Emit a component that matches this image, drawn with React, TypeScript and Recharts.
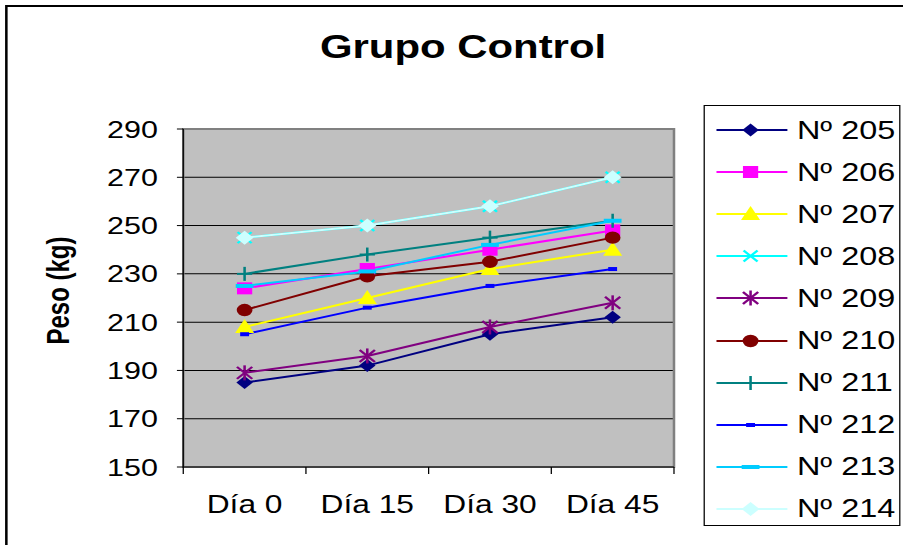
import React from 'react';
import { LineChart, Line, XAxis, YAxis, CartesianGrid, ReferenceArea } from 'recharts';

// Categorías y pesos (kg)
const categories = ['Día 0', 'Día 15', 'Día 30', 'Día 45'];
const yTicks = [150, 170, 190, 210, 230, 250, 270, 290];

const n205 = [185, 192, 205, 212];
const n206 = [224, 232, 240, 248];
const n207 = [208, 220, 232, 240];
const n208 = [245, 250, 258, 270];
const n209 = [189, 196, 208, 218];
const n210 = [215, 229, 235, 245];
const n211 = [230, 238, 245, 252];
const n212 = [205, 216, 225, 232];
const n213 = [225, 231, 242, 252];
const n214 = [245, 250, 258, 270];

type Shape = 'diamond' | 'square' | 'triangle' | 'x' | 'star' | 'circle' | 'plus' | 'dash' | 'bar' | 'diamond2';

const series: { key: string; name: string; values: number[]; color: string; shape: Shape }[] = [
  { key: 'n205', name: 'Nº 205', values: n205, color: '#000080', shape: 'diamond' },
  { key: 'n206', name: 'Nº 206', values: n206, color: '#FF00FF', shape: 'square' },
  { key: 'n207', name: 'Nº 207', values: n207, color: '#FFFF00', shape: 'triangle' },
  { key: 'n208', name: 'Nº 208', values: n208, color: '#00FFFF', shape: 'x' },
  { key: 'n209', name: 'Nº 209', values: n209, color: '#800080', shape: 'star' },
  { key: 'n210', name: 'Nº 210', values: n210, color: '#800000', shape: 'circle' },
  { key: 'n211', name: 'Nº 211', values: n211, color: '#008080', shape: 'plus' },
  { key: 'n212', name: 'Nº 212', values: n212, color: '#0000FF', shape: 'dash' },
  { key: 'n213', name: 'Nº 213', values: n213, color: '#00CCFF', shape: 'bar' },
  { key: 'n214', name: 'Nº 214', values: n214, color: '#CCFFFF', shape: 'diamond2' },
];

const data = categories.map((c, i) => {
  const row: any = { x: i + 0.5, cat: c };
  series.forEach((s) => (row[s.key] = s.values[i]));
  return row;
});

const xTicks = categories.flatMap((_, i) => [i, i + 0.5]).concat(categories.length);

// the original picture is stretched horizontally
const SCALE = 1.27;
const W = 711;
const H = 545;
const FONT = '"Liberation Sans", Arial, sans-serif';

const Marker = ({ shape, cx, cy, color }: { shape: Shape; cx: number; cy: number; color: string }) => {
  switch (shape) {
    case 'diamond':
      return <polygon points={`${cx},${cy - 6.5} ${cx + 6.5},${cy} ${cx},${cy + 6.5} ${cx - 6.5},${cy}`} fill={color} />;
    case 'diamond2':
      return <polygon points={`${cx},${cy - 7} ${cx + 7},${cy} ${cx},${cy + 7} ${cx - 7},${cy}`} fill={color} />;
    case 'square':
      return <rect x={cx - 6} y={cy - 6} width={12} height={12} fill={color} />;
    case 'triangle':
      return <polygon points={`${cx},${cy - 8} ${cx + 7.5},${cy + 6} ${cx - 7.5},${cy + 6}`} fill={color} />;
    case 'x':
      return (
        <g stroke={color} strokeWidth={2}>
          <line x1={cx - 5.5} y1={cy - 5.5} x2={cx + 5.5} y2={cy + 5.5} />
          <line x1={cx - 5.5} y1={cy + 5.5} x2={cx + 5.5} y2={cy - 5.5} />
        </g>
      );
    case 'star':
      return (
        <g stroke={color} strokeWidth={2}>
          <line x1={cx - 6} y1={cy - 6} x2={cx + 6} y2={cy + 6} />
          <line x1={cx - 6} y1={cy + 6} x2={cx + 6} y2={cy - 6} />
          <line x1={cx} y1={cy - 7.5} x2={cx} y2={cy + 7.5} />
        </g>
      );
    case 'circle':
      return <ellipse cx={cx} cy={cy} rx={6.2} ry={6.2} fill={color} />;
    case 'plus':
      return (
        <g stroke={color} strokeWidth={2}>
          <line x1={cx - 6} y1={cy} x2={cx + 6} y2={cy} />
          <line x1={cx} y1={cy - 7} x2={cx} y2={cy + 7} />
        </g>
      );
    case 'dash':
      return <rect x={cx - 3.5} y={cy - 2} width={7} height={4} fill={color} />;
    case 'bar':
      return <rect x={cx - 7} y={cy - 2} width={14} height={4} fill={color} />;
  }
  return null;
};

const XTick = ({ x, y, payload }: any) => {
  const v = payload.value;
  if (Number.isInteger(v)) {
    return <line x1={x} x2={x} y1={y} y2={y + 7} stroke="#000" />;
  }
  return (
    <text x={x} y={y + 46} textAnchor="middle" fontSize={25} fontFamily={FONT} fill="#000">
      {categories[Math.floor(v)]}
    </text>
  );
};

const App: React.FC = () => {
  return (
    <div style={{ position: 'absolute', left: 0, top: 0, width: 903, height: 545, overflow: 'hidden', background: '#fff' }}>
      <div
        style={{
          position: 'absolute',
          left: 0,
          top: 0,
          width: W,
          height: H,
          transform: `scaleX(${SCALE})`,
          transformOrigin: '0 0',
        }}
      >
        {/* outer chart frame */}
        <div style={{ position: 'absolute', left: 4, top: 5, width: 800, height: 700, border: '2px solid #000' }} />

        <LineChart width={W} height={H} data={data} margin={{ top: 129, right: 180.3, bottom: 38, left: 84.3 }}>
          <CartesianGrid vertical={false} fill="#C0C0C0" stroke="#000" strokeOpacity={1} />
          <ReferenceArea x1={0} x2={4} y1={150} y2={290} fill="none" stroke="#808080" strokeWidth={2} fillOpacity={0} />
          <XAxis
            dataKey="x"
            type="number"
            domain={[0, categories.length]}
            ticks={xTicks}
            interval={0}
            tickLine={false}
            tickSize={0}
            tickMargin={0}
            axisLine={{ stroke: '#000' }}
            tick={<XTick />}
            height={40}
          />
          <YAxis
            domain={[150, 290]}
            ticks={yTicks}
            interval={0}
            width={60}
            tickSize={5}
            tickMargin={15}
            axisLine={{ stroke: '#000' }}
            tickLine={{ stroke: '#000' }}
            tick={{ fill: '#000', fontSize: 24, fontFamily: FONT }}
          />
          {series.map((s) => (
            <Line
              key={s.key}
              dataKey={s.key}
              type="linear"
              stroke={s.color}
              strokeWidth={2}
              isAnimationActive={false}
              activeDot={false}
              dot={(p: any) => <Marker key={`${s.key}-${p.index}`} shape={s.shape} cx={p.cx} cy={p.cy} color={s.color} />}
            />
          ))}
        </LineChart>

        <svg width={W} height={H} style={{ position: 'absolute', left: 0, top: 0, pointerEvents: 'none' }}>
          <text x={364.6} y={58.5} textAnchor="middle" fontSize={33} fontWeight="bold" fontFamily={FONT} fill="#000">
            Grupo Control
          </text>
          <text
            x={54}
            y={290.5}
            transform="rotate(-90, 54, 290.5)"
            textAnchor="middle"
            fontSize={24}
            fontWeight="bold"
            fontFamily={FONT}
            fill="#000"
          >
            Peso (kg)
          </text>
        </svg>

        {/* legend */}
        <div
          style={{
            position: 'absolute',
            left: 553.5,
            top: 105,
            width: 155,
            height: 421,
            boxSizing: 'border-box',
            border: '1px solid #000',
            background: '#fff',
            paddingTop: 3,
            fontFamily: FONT,
            fontSize: 25.5,
          }}
        >
          {series.map((s) => (
            <div key={s.key} style={{ height: 42.1, display: 'flex', alignItems: 'center' }}>
              <svg width={62} height={20} style={{ marginLeft: 9, flex: 'none' }}>
                <line x1={0} x2={56} y1={10} y2={10} stroke={s.color} strokeWidth={2} />
                <Marker shape={s.shape} cx={27} cy={10} color={s.color} />
              </svg>
              <span style={{ marginLeft: 2, whiteSpace: 'nowrap' }}>{s.name}</span>
            </div>
          ))}
        </div>
      </div>
    </div>
  );
};

export default App;
